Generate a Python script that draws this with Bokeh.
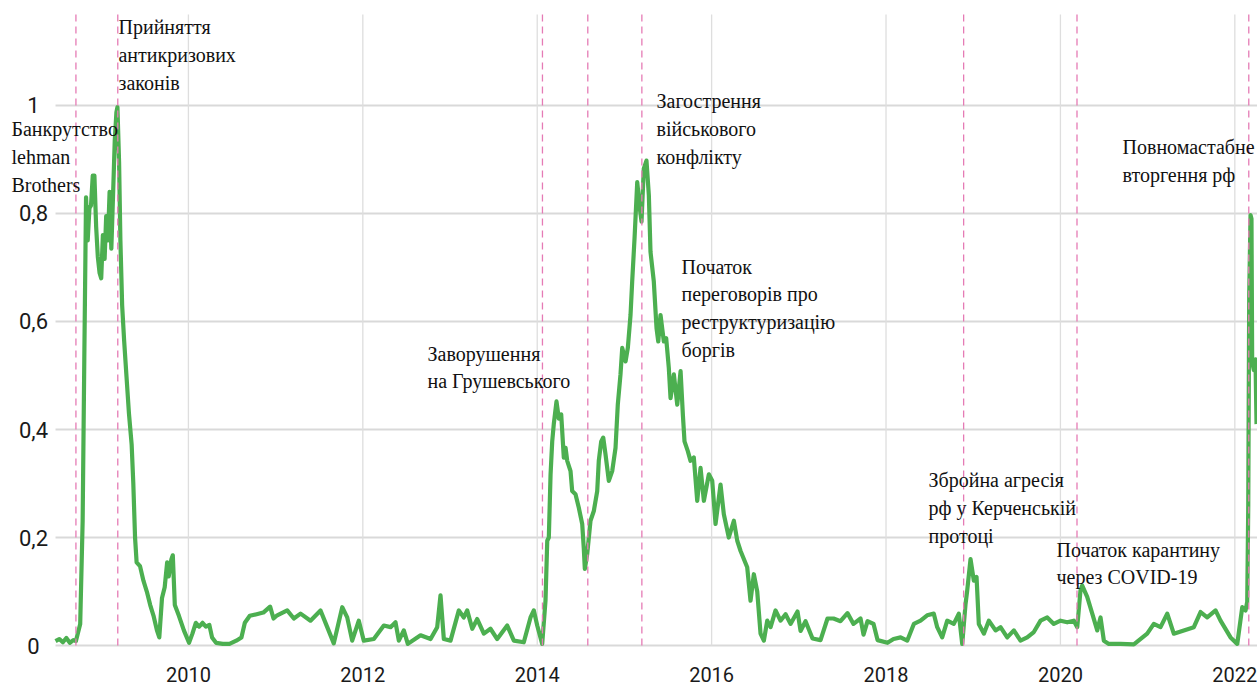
from bokeh.plotting import figure
from bokeh.models import Range1d, Label
from bokeh.core.properties import value
from bokeh.embed import file_html
from bokeh.resources import INLINE

# ---- data (decimal years, index value) ----
years = [
    2008.476, 2008.52, 2008.56, 2008.60, 2008.64, 2008.68, 2008.709, 2008.728, 2008.759, 2008.787,
    2008.806, 2008.826, 2008.845, 2008.865, 2008.883, 2008.903, 2008.922, 2008.942, 2008.961, 2008.981,
    2009.000, 2009.019, 2009.039, 2009.057, 2009.077, 2009.096, 2009.116, 2009.135, 2009.155, 2009.174,
    2009.186, 2009.205, 2009.220, 2009.240, 2009.263, 2009.290, 2009.318, 2009.349, 2009.368, 2009.388,
    2009.406, 2009.445, 2009.484, 2009.523, 2009.562, 2009.600, 2009.639, 2009.666, 2009.697, 2009.728,
    2009.756, 2009.774, 2009.805, 2009.821, 2009.844, 2009.891, 2009.948, 2010.007, 2010.046, 2010.085,
    2010.123, 2010.162, 2010.200, 2010.240, 2010.271, 2010.317, 2010.394, 2010.471, 2010.549, 2010.608,
    2010.647, 2010.704, 2010.782, 2010.859, 2010.937, 2010.976, 2011.018, 2011.133, 2011.209, 2011.286,
    2011.400, 2011.515, 2011.592, 2011.667, 2011.764, 2011.821, 2011.878, 2011.954, 2012.011, 2012.126,
    2012.241, 2012.318, 2012.375, 2012.413, 2012.470, 2012.516, 2012.624, 2012.662, 2012.777, 2012.853,
    2012.891, 2012.929, 2013.006, 2013.101, 2013.158, 2013.197, 2013.255, 2013.312, 2013.388, 2013.464,
    2013.541, 2013.656, 2013.732, 2013.846, 2013.923, 2013.961, 2014.000, 2014.057, 2014.095, 2014.115,
    2014.133, 2014.153, 2014.172, 2014.190, 2014.221, 2014.248, 2014.275, 2014.305, 2014.325, 2014.344,
    2014.382, 2014.401, 2014.439, 2014.477, 2014.516, 2014.534, 2014.546, 2014.573, 2014.611, 2014.649,
    2014.688, 2014.706, 2014.734, 2014.757, 2014.783, 2014.821, 2014.860, 2014.898, 2014.924, 2014.955,
    2014.975, 2015.013, 2015.039, 2015.070, 2015.089, 2015.116, 2015.147, 2015.177, 2015.196, 2015.222,
    2015.253, 2015.280, 2015.299, 2015.337, 2015.368, 2015.388, 2015.414, 2015.452, 2015.479, 2015.509,
    2015.529, 2015.567, 2015.606, 2015.644, 2015.670, 2015.689, 2015.727, 2015.758, 2015.796, 2015.835,
    2015.873, 2015.911, 2015.968, 2016.007, 2016.045, 2016.102, 2016.140, 2016.197, 2016.255, 2016.294,
    2016.332, 2016.408, 2016.446, 2016.484, 2016.523, 2016.561, 2016.599, 2016.638, 2016.676, 2016.733,
    2016.790, 2016.848, 2016.905, 2016.985, 2017.020, 2017.077, 2017.157, 2017.249, 2017.329, 2017.398,
    2017.478, 2017.558, 2017.627, 2017.708, 2017.742, 2017.788, 2017.857, 2017.903, 2018.017, 2018.086,
    2018.167, 2018.243, 2018.319, 2018.396, 2018.472, 2018.548, 2018.587, 2018.644, 2018.702, 2018.777,
    2018.835, 2018.874, 2018.912, 2018.931, 2018.969, 2019.007, 2019.038, 2019.064, 2019.122, 2019.179,
    2019.256, 2019.313, 2019.390, 2019.466, 2019.542, 2019.619, 2019.695, 2019.772, 2019.849, 2019.924,
    2020.001, 2020.078, 2020.153, 2020.193, 2020.230, 2020.250, 2020.307, 2020.365, 2020.422, 2020.460,
    2020.498, 2020.555, 2020.689, 2020.842, 2020.995, 2021.071, 2021.148, 2021.225, 2021.300, 2021.415,
    2021.530, 2021.607, 2021.683, 2021.779, 2021.836, 2021.951, 2022.028, 2022.085, 2022.123, 2022.142,
    2022.154, 2022.165, 2022.180, 2022.191, 2022.199, 2022.218, 2022.237, 2022.249,
]
values = [
    0.008, 0.012, 0.006, 0.014, 0.005, 0.010, 0.008, 0.020, 0.040, 0.230,
    0.530, 0.830, 0.750, 0.810, 0.815, 0.870, 0.870, 0.775, 0.720, 0.690,
    0.680, 0.760, 0.716, 0.795, 0.750, 0.840, 0.735, 0.830, 0.934, 0.987,
    0.997, 0.894, 0.750, 0.630, 0.564, 0.498, 0.430, 0.372, 0.300, 0.200,
    0.154, 0.147, 0.120, 0.100, 0.075, 0.055, 0.028, 0.015, 0.088, 0.108,
    0.154, 0.128, 0.160, 0.167, 0.075, 0.055, 0.028, 0.005, 0.022, 0.042,
    0.035, 0.042, 0.035, 0.038, 0.015, 0.005, 0.003, 0.003, 0.009, 0.015,
    0.042, 0.055, 0.058, 0.061, 0.072, 0.050, 0.056, 0.065, 0.050, 0.059,
    0.046, 0.065, 0.034, 0.004, 0.071, 0.052, 0.009, 0.046, 0.009, 0.012,
    0.037, 0.034, 0.043, 0.009, 0.028, 0.003, 0.015, 0.019, 0.012, 0.034,
    0.093, 0.012, 0.009, 0.065, 0.052, 0.065, 0.031, 0.049, 0.022, 0.031,
    0.012, 0.037, 0.009, 0.006, 0.052, 0.065, 0.037, 0.003, 0.083, 0.194,
    0.200, 0.317, 0.378, 0.410, 0.452, 0.420, 0.428, 0.348, 0.366, 0.342,
    0.323, 0.286, 0.280, 0.255, 0.225, 0.180, 0.142, 0.169, 0.231, 0.249,
    0.286, 0.342, 0.378, 0.385, 0.354, 0.305, 0.323, 0.366, 0.446, 0.502,
    0.551, 0.526, 0.551, 0.612, 0.674, 0.754, 0.858, 0.809, 0.785, 0.883,
    0.898, 0.834, 0.729, 0.674, 0.588, 0.563, 0.612, 0.563, 0.569, 0.514,
    0.458, 0.502, 0.446, 0.508, 0.428, 0.378, 0.360, 0.342, 0.348, 0.268,
    0.329, 0.268, 0.317, 0.305, 0.225, 0.298, 0.243, 0.200, 0.231, 0.194,
    0.175, 0.145, 0.083, 0.132, 0.100, 0.022, 0.009, 0.046, 0.034, 0.065,
    0.046, 0.058, 0.040, 0.063, 0.027, 0.045, 0.013, 0.010, 0.050, 0.050,
    0.045, 0.060, 0.040, 0.050, 0.020, 0.045, 0.040, 0.010, 0.005, 0.012,
    0.015, 0.009, 0.040, 0.046, 0.056, 0.059, 0.034, 0.015, 0.046, 0.040,
    0.059, 0.003, 0.077, 0.102, 0.160, 0.120, 0.127, 0.040, 0.022, 0.046,
    0.028, 0.034, 0.015, 0.028, 0.009, 0.015, 0.025, 0.046, 0.052, 0.040,
    0.046, 0.043, 0.046, 0.034, 0.102, 0.111, 0.090, 0.059, 0.028, 0.052,
    0.009, 0.003, 0.003, 0.002, 0.022, 0.040, 0.034, 0.059, 0.022, 0.028,
    0.034, 0.062, 0.052, 0.065, 0.046, 0.015, 0.003, 0.071, 0.065, 0.081,
    0.260, 0.650, 0.797, 0.790, 0.525, 0.510, 0.530, 0.410,
]

event_years = [2008.71, 2009.19, 2014.06, 2014.58, 2015.20, 2018.89, 2020.19, 2022.16]

annot_texts = [
    "Банкрутство\nlehman\nBrothers",
    "Прийняття\nантикризових\nзаконів",
    "Заворушення\nна Грушевського",
    "Загострення\nвійськового\nконфлікту",
    "Початок\nпереговорів про\nреструктуризацію\nборгів",
    "Збройна агресія\nрф у Керченській\nпротоці",
    "Початок карантину\nчерез COVID-19",
    "Повномастабне\nвторгення рф",
]
annot_x = [2007.971, 2009.198, 2012.742, 2015.368, 2015.655, 2018.487, 2019.955, 2020.712]
annot_y = [0.976, 1.165, 0.561, 1.028, 0.722, 0.326, 0.198, 0.943]

x_ticks = [2010, 2012, 2014, 2016, 2018, 2020, 2022]
x_tick_labels = ["2010", "2012", "2014", "2016", "2018", "2020", "2022"]
y_ticks = [0, 0.2, 0.4, 0.6, 0.8, 1]
y_tick_labels = ["0", "0,2", "0,4", "0,6", "0,8", "1"]

# ---- layout constants (positions, not data) ----
X_START, X_END = 2007.845, 2022.26      # visible range
Y_BOTTOM, Y_TOP = -0.0796, 1.1944
GRID_TOP = 1.1685                       # top of vertical rules
Y_LABEL_X = 2008.223                    # centre of y tick labels
X_LABEL_Y = -0.0537                     # centre of x tick labels

p = figure(width=1257, height=688, output_backend="svg", toolbar_location=None,
           x_range=Range1d(X_START, X_END), y_range=Range1d(Y_BOTTOM, Y_TOP),
           x_axis_location=None, y_axis_location=None, min_border=0)
p.grid.visible = False
p.outline_line_color = None
p.background_fill_color = "white"
p.border_fill_color = "white"

n_y = len(y_ticks)
n_x = len(x_ticks)
n_e = len(event_years)

# horizontal grid lines
p.segment(x0=[years[0]] * n_y, y0=y_ticks, x1=[X_END] * n_y, y1=y_ticks,
          line_color="#d9d9d9", line_width=2)
# vertical grid lines
p.segment(x0=x_ticks, y0=[0] * n_x, x1=x_ticks, y1=[GRID_TOP] * n_x,
          line_color="#dedede", line_width=1.3)

# the series
p.line(years, values, line_color="#4caf50", line_width=4.2, line_join="round")

# event rules
p.segment(x0=event_years, y0=[0] * n_e, x1=event_years, y1=[GRID_TOP] * n_e,
          line_color="#e57bb5", line_dash="7 5", line_width=1.3)

tick_font = value("Roboto")

# tick labels
p.text(x=[Y_LABEL_X] * n_y, y=y_ticks, text=y_tick_labels, text_font=tick_font,
       text_font_size="22px", text_align="center", text_baseline="middle",
       text_color="#1a1a1a")
p.text(x=x_ticks, y=[X_LABEL_Y] * n_x, text=x_tick_labels, text_font=tick_font,
       text_font_size="20px", text_align="center", text_baseline="middle",
       text_color="#1a1a1a")

# annotations
for t, ax_, ay_ in zip(annot_texts, annot_x, annot_y):
    p.add_layout(Label(x=ax_, y=ay_, text=t, text_align="left", text_baseline="top",
                       text_font="Liberation Serif", text_font_size="20px",
                       text_line_height=1.26, text_color="#111111"))

open("out.html", "w").write(file_html(p, INLINE))
